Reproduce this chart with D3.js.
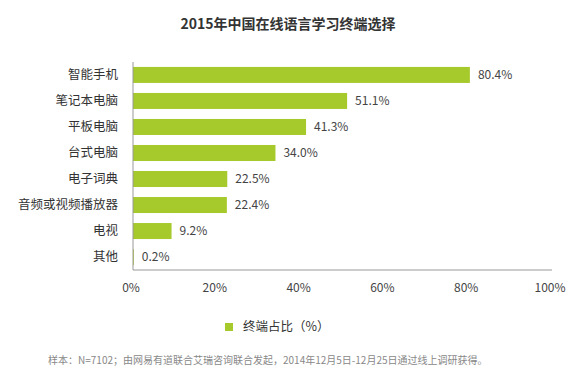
<!DOCTYPE html>
<html>
<head>
<meta charset="utf-8">
<script src="https://cdn.jsdelivr.net/npm/d3@7"></script>
<style>
  body { margin: 0; background: #fff; }
  text { font-family: "Noto Sans CJK SC", "Open Sans", sans-serif; }
</style>
</head>
<body>
<div id="my_dataviz"></div>
<script>
// data
var categories = ["智能手机", "笔记本电脑", "平板电脑", "台式电脑", "电子词典", "音频或视频播放器", "电视", "其他"];
var values = [80.4, 51.1, 41.3, 34.0, 22.5, 22.4, 9.2, 0.2];
var xTicks = [0, 20, 40, 60, 80, 100];
var seriesName = "终端占比（%）";
var title = "2015年中国在线语言学习终端选择";
var note = "样本：N=7102；由网易有道联合艾瑞咨询联合发起，2014年12月5日-12月25日通过线上调研获得。";

var W = 576, H = 375;
var barColor = "#a6c92b";

var svg = d3.select("#my_dataviz")
  .append("svg")
    .attr("width", W)
    .attr("height", H);

// title
svg.append("text")
  .attr("x", 288)
  .attr("y", 29)
  .attr("text-anchor", "middle")
  .attr("font-size", 14)
  .attr("font-weight", "bold")
  .attr("fill", "#333")
  .text(title);

// scales
var x = d3.scaleLinear()
  .domain([0, 100])
  .range([133, 552]);

var y = d3.scaleBand()
  .domain(categories)
  .range([62, 270])
  .paddingInner(0.385)
  .paddingOuter(0.19);

// bars
svg.selectAll(".bar")
  .data(values)
  .enter()
  .append("rect")
    .attr("class", "bar")
    .attr("x", x(0))
    .attr("y", function(d, i) { return y(categories[i]); })
    .attr("width", function(d) { return x(d) - x(0); })
    .attr("height", y.bandwidth())
    .attr("fill", barColor);

// value labels
svg.selectAll(".val")
  .data(values)
  .enter()
  .append("text")
    .attr("class", "val")
    .attr("x", function(d) { return x(d) + 8; })
    .attr("y", function(d, i) { return y(categories[i]) + y.bandwidth() / 2; })
    .attr("dy", "0.35em")
    .attr("font-size", 12)
    .attr("fill", "#444")
    .text(function(d) { return d.toFixed(1) + "%"; });

// category labels
svg.selectAll(".cat")
  .data(categories)
  .enter()
  .append("text")
    .attr("class", "cat")
    .attr("x", 118)
    .attr("y", function(d) { return y(d) + y.bandwidth() / 2; })
    .attr("dy", "0.35em")
    .attr("text-anchor", "end")
    .attr("font-size", 12.5)
    .attr("fill", "#333")
    .text(function(d) { return d; });

// axis lines
svg.append("line")
  .attr("x1", x(0)).attr("x2", x(0))
  .attr("y1", 62).attr("y2", 270)
  .attr("stroke", "#999");
svg.append("line")
  .attr("x1", x(0)).attr("x2", x(100))
  .attr("y1", 270).attr("y2", 270)
  .attr("stroke", "#999");

// x tick labels
svg.selectAll(".tick")
  .data(xTicks)
  .enter()
  .append("text")
    .attr("class", "tick")
    .attr("x", function(d) { return x(d) - 2; })
    .attr("y", 288)
    .attr("dy", "0.35em")
    .attr("text-anchor", "middle")
    .attr("font-size", 12)
    .attr("fill", "#444")
    .text(function(d) { return d + "%"; });

// legend
svg.append("rect")
  .attr("x", 225)
  .attr("y", 323)
  .attr("width", 8)
  .attr("height", 8)
  .attr("fill", barColor);
svg.append("text")
  .attr("x", 243)
  .attr("y", 327)
  .attr("dy", "0.35em")
  .attr("font-size", 12.5)
  .attr("fill", "#333")
  .text(seriesName);

// source note
svg.append("text")
  .attr("x", 48)
  .attr("y", 360)
  .attr("dy", "0.35em")
  .attr("font-size", 10)
  .attr("fill", "#888")
  .text(note);
</script>
</body>
</html>
